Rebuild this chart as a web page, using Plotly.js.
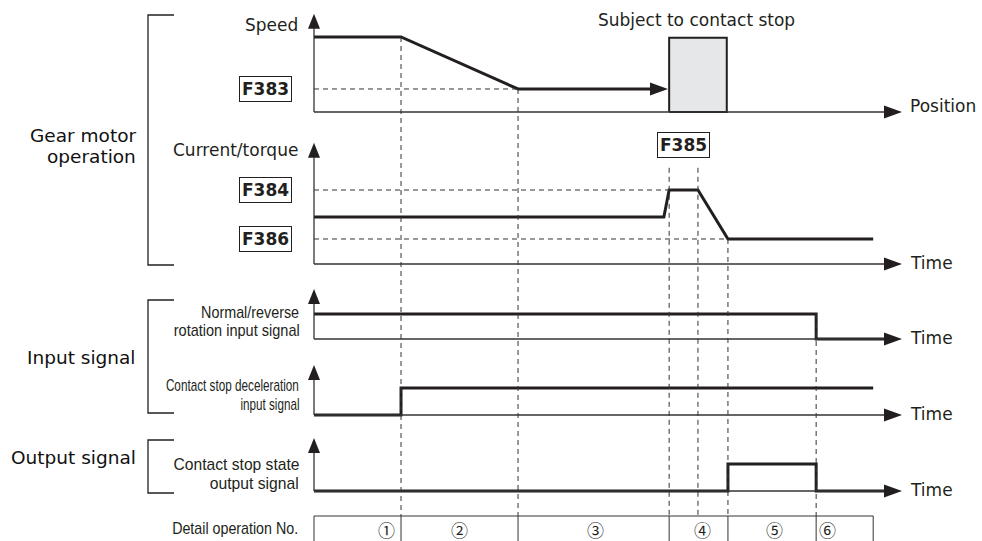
<!DOCTYPE html>
<html><head><meta charset="utf-8">
<script src="https://cdn.plot.ly/plotly-3.0.1.min.js"></script>
<style>html,body{margin:0;padding:0;background:#fff}#chart{width:982px;height:541px}</style>
</head><body><div id="chart"></div>
<script>
// ---------------- DATA (time units: 0 = origin, 10 = end of time axis) ----------------
const stepBounds   = [0, 1.48, 3.47, 6.04, 7.04, 8.54, 9.51];   // detail-operation table cells
const eventTimes   = [1.48, 3.47, 6.04, 6.53, 7.04, 8.54];       // dashed event lines
const stepLabels   = ['①', '②', '③', '④', '⑤', '⑥'];
const stepLabelT   = [1.24, 2.48, 4.78, 6.6, 7.84, 8.74];
const axisEnd      = 10;

// speed vs position
const speedT = [0, 1.48, 3.47, 6.02];
const speedV = [1, 1, 0.307, 0.307];
const stopObjT = [6.04, 7.02];   // object subject to contact stop
const stopObjH = 0.99;

// current / torque vs time
const currentT = [0, 5.95, 6.04, 6.53, 7.04, 9.51];
const currentV = [0.635, 0.635, 1, 1, 0.338, 0.338];
const levelF383 = 0.307, levelF384 = 1.0, levelF386 = 0.338;

// signals
const nrT  = [0, 8.54, 8.54, 10];             const nrV  = [1, 1, 0, 0];
const csT  = [0, 1.48, 1.48, 9.51];           const csV  = [0, 0, 1, 1];
const outT = [0, 7.04, 7.04, 8.54, 8.54, 10]; const outV = [0, 0, 1, 1, 0, 0];

// ---------------- LAYOUT HELPERS ----------------
const W = 982, H = 541;
const PXT = 58.8, X0 = 314;             // px per time unit, origin px
const INK = '#231f20', AX = '#333333';
const FONT = 'DejaVu Sans';
const NARROW = '"Liberation Sans", Arial, sans-serif';
const P = {
  speed:   {ax: 'y',  base: 112, unit: 75, tip: 1.31},
  current: {ax: 'y2', base: 264, unit: 74, tip: 1.64},
  nr:      {ax: 'y3', base: 339, unit: 25, tip: 2.0},
  cs:      {ax: 'y4', base: 415, unit: 27, tip: 1.85},
  out:     {ax: 'y5', base: 491, unit: 27, tip: 1.96}
};
const py = p => 1 - p / H;                           // pixel -> paper y
const px = p => p / W;                               // pixel -> paper x
const pv = (p, v) => py(P[p].base - v * P[p].unit);  // panel value -> paper y

const traces = [];
function line(p, x, y, w) {
  traces.push({type: 'scatter', mode: 'lines', x: x, y: y, yaxis: P[p].ax,
    line: {color: INK, width: w || 3, shape: 'linear'}, hoverinfo: 'skip', showlegend: false, cliponaxis: false});
}
const shapes = [];
const annotations = [];

// arrowheads (filled triangles)
function arrowUp(p, len, wid) {
  const t = P[p].tip, l = len / P[p].unit, w = wid / 2 / PXT;
  shapes.push({type: 'path', xref: 'x', yref: P[p].ax, path: `M0,${t} L${-w},${t - l} L${w},${t - l} Z`,
    fillcolor: INK, line: {width: 0}});
  shapes.push({type: 'line', xref: 'x', yref: P[p].ax, x0: 0, x1: 0, y0: 0, y1: t - l + 0.01, line: {color: AX, width: 1.3}});
}
function arrowRight(p, tx, tv, len, wid) {
  const l = len / PXT, w = wid / 2 / P[p].unit;
  shapes.push({type: 'path', xref: 'x', yref: P[p].ax, path: `M${tx},${tv} L${tx - l},${tv + w} L${tx - l},${tv - w} Z`,
    fillcolor: INK, line: {width: 0}});
}
function timeAxis(p) {
  shapes.push({type: 'line', xref: 'x', yref: P[p].ax, x0: 0, x1: axisEnd - 0.1, y0: 0, y1: 0, line: {color: AX, width: 1.3}});
  arrowRight(p, axisEnd, 0, 18, 13);
}
const trimEnd = (arr, d) => arr.map((v, i) => i === arr.length - 1 ? v - d / PXT : v);

Object.keys(P).forEach(k => { timeAxis(k); arrowUp(k, 15, 12); });

// ---------- speed panel ----------
traces.push({type: 'scatter', mode: 'lines', yaxis: 'y',
  x: [stopObjT[0], stopObjT[1], stopObjT[1], stopObjT[0], stopObjT[0]],
  y: [0, 0, stopObjH, stopObjH, 0], fill: 'toself', fillcolor: '#e6e7e8',
  line: {color: INK, width: 2}, hoverinfo: 'skip', showlegend: false});
line('speed', trimEnd(speedT, 8), speedV);
arrowRight('speed', speedT[speedT.length - 1], speedV[speedV.length - 1], 18, 13);

// ---------- current panel ----------
line('current', currentT, currentV);

// ---------- signals ----------
line('nr', trimEnd(nrT, 8), nrV);
line('cs', csT, csV);
line('out', trimEnd(outT, 8), outV);

// ---------- dashed reference lines ----------
const DASH = {color: AX, width: 1, dash: '5px,4px'};
function hdash(p, v, t1) { shapes.push({type: 'line', xref: 'x', yref: P[p].ax, x0: 0, x1: t1, y0: v, y1: v, line: DASH}); }
hdash('speed', levelF383, speedT[2]);
hdash('current', levelF384, currentT[2]);
hdash('current', levelF386, currentT[4]);
const vStart = [pv('speed', speedV[1]), pv('speed', levelF383), pv('current', 1.3), pv('current', 1.3),
                pv('current', levelF386), pv('nr', nrV[0])];
const tableTop = py(516);
eventTimes.forEach((t, i) => shapes.push({type: 'line', xref: 'x', yref: 'paper', x0: t, x1: t, y0: vStart[i], y1: tableTop, line: DASH}));

// ---------- detail operation table ----------
shapes.push({type: 'path', xref: 'x', yref: 'paper',
  path: `M${stepBounds[0]},-0.05 L${stepBounds[0]},${tableTop} L${stepBounds[6]},${tableTop} L${stepBounds[6]},-0.05`,
  line: {color: AX, width: 1}});
stepBounds.slice(1, -1).forEach(t => shapes.push({type: 'line', xref: 'x', yref: 'paper', x0: t, x1: t, y0: tableTop, y1: -0.05, line: {color: AX, width: 1}}));
stepLabels.forEach((s, i) => annotations.push({x: stepLabelT[i], y: py(529), xref: 'x', yref: 'paper', text: s,
  xanchor: 'center', yanchor: 'middle', showarrow: false, font: {family: '"Noto Sans CJK JP", "DejaVu Sans"', size: 17, color: INK}}));

// ---------- brackets ----------
function bracket(top, bot) {
  shapes.push({type: 'path', xref: 'paper', yref: 'paper',
    path: `M${px(174)},${py(top)} L${px(148)},${py(top)} L${px(148)},${py(bot)} L${px(174)},${py(bot)}`,
    line: {color: INK, width: 1.3}});
}
bracket(15, 265); bracket(300, 413); bracket(440, 493);

// ---------- texts ----------
function txt(text, x, y, opts) {
  annotations.push(Object.assign({text: text, x: x, y: y, xref: 'paper', yref: 'paper', showarrow: false,
    xanchor: 'center', yanchor: 'middle', font: {family: FONT, size: 17, color: INK}}, opts || {}));
}
const grp = {family: FONT, size: 18.5, color: '#111'};
txt('Gear motor', px(138), py(135), {xanchor: 'right', font: grp});
txt('operation', px(138), py(156), {xanchor: 'right', font: grp});
txt('Input signal', px(138), py(357), {xanchor: 'right', font: grp});
txt('Output signal', px(138), py(458), {xanchor: 'right', font: grp});

txt('Speed', px(300), py(25), {xanchor: 'right'});
txt('Current/torque', px(300), py(150), {xanchor: 'right'});
txt('Subject to contact stop', px(696), py(20));
txt('Position', px(908), py(106), {xanchor: 'left'});
['current', 'nr', 'cs', 'out'].forEach(k => txt('Time', px(908), pv(k, 0) + 1 / H, {xanchor: 'left'}));

// condensed labels: [text, right edge px, centre y px, fitted width px]
const fitLabels = [
  ['Normal/reverse', 299, 312, 98],
  ['rotation input signal', 299, 330, 126],
  ['Contact stop deceleration', 299, 385, 133],
  ['input signal', 299, 404, 59],
  ['Contact stop state', 299, 464, 126],
  ['output signal', 299, 483, 89],
  ['Detail operation No.', 298, 528, 126]
];
const fitWidth = {};
fitLabels.forEach(([t, r, y, w]) => {
  fitWidth[t] = w;
  txt(t, px(r - w / 2), py(y), {font: {family: NARROW, size: 17, color: INK}});
});

// parameter boxes
const fbox = {family: FONT, size: 17, color: INK, weight: 'bold'};
const boxOpts = {bordercolor: INK, borderwidth: 1, borderpad: 2, bgcolor: '#fff', font: fbox, showarrow: false, yanchor: 'middle'};
annotations.push(Object.assign({text: 'F383', x: 0, xshift: -22, xanchor: 'right', y: levelF383, xref: 'x', yref: 'y'}, boxOpts));
annotations.push(Object.assign({text: 'F384', x: 0, xshift: -22, xanchor: 'right', y: levelF384, xref: 'x', yref: 'y2'}, boxOpts));
annotations.push(Object.assign({text: 'F386', x: 0, xshift: -22, xanchor: 'right', y: levelF386, xref: 'x', yref: 'y2'}, boxOpts));
annotations.push(Object.assign({text: 'F385', x: (eventTimes[2] + eventTimes[3]) / 2, xanchor: 'center', y: 1.61, xref: 'x', yref: 'y2'}, boxOpts));

// ---------------- LAYOUT ----------------
const yr = p => [(P[p].base - H) / P[p].unit, P[p].base / P[p].unit];
const hid = {visible: false, fixedrange: true, showgrid: false, zeroline: false};
const layout = {
  width: W, height: H, margin: {l: 0, r: 0, t: 0, b: 0},
  paper_bgcolor: '#fff', plot_bgcolor: '#fff', showlegend: false,
  xaxis: Object.assign({range: [-X0 / PXT, (W - X0) / PXT]}, hid),
  yaxis:  Object.assign({range: yr('speed')}, hid),
  yaxis2: Object.assign({range: yr('current'), overlaying: 'y', anchor: 'x'}, hid),
  yaxis3: Object.assign({range: yr('nr'), overlaying: 'y', anchor: 'x'}, hid),
  yaxis4: Object.assign({range: yr('cs'), overlaying: 'y', anchor: 'x'}, hid),
  yaxis5: Object.assign({range: yr('out'), overlaying: 'y', anchor: 'x'}, hid),
  shapes: shapes, annotations: annotations
};
Plotly.newPlot('chart', traces, layout, {staticPlot: true, displayModeBar: false}).then(gd => {
  gd.querySelectorAll('.annotation-text').forEach(el => {
    const w = fitWidth[el.textContent];
    if (w) { el.setAttribute('textLength', w); el.setAttribute('lengthAdjust', 'spacingAndGlyphs'); }
  });
});
</script></body></html>
